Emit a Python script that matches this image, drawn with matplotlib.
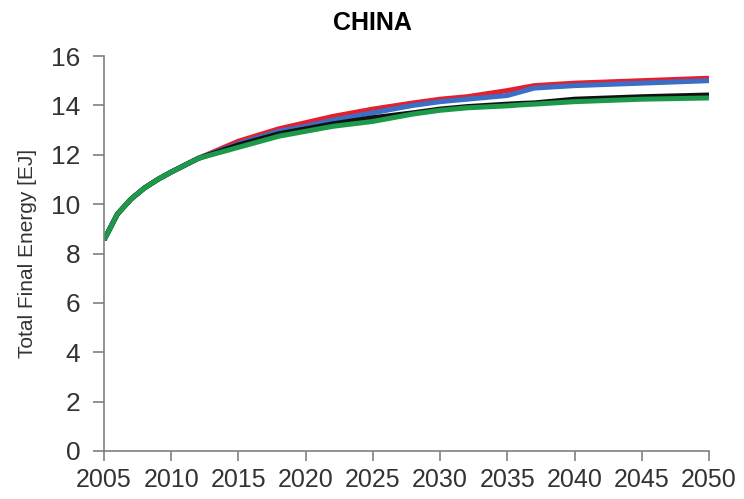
import matplotlib
matplotlib.use("Agg")
import matplotlib.pyplot as plt

years = [2005, 2006, 2007, 2008, 2009, 2010, 2012, 2015, 2018, 2020, 2022,
         2025, 2028, 2030, 2032, 2035, 2036, 2037, 2040, 2045, 2050]
early = [8.55, 9.6, 10.2, 10.65, 11.0, 11.3, 11.85]
red_vals = early + [12.55, 13.05, 13.3, 13.55, 13.85, 14.1, 14.25, 14.35, 14.6, 14.7, 14.8, 14.9, 15.0, 15.1]
blue_vals = early + [12.45, 12.95, 13.15, 13.4, 13.7, 14.0, 14.15, 14.25, 14.4, 14.55, 14.7, 14.8, 14.9, 15.0]
black_vals = early + [12.4, 12.85, 13.05, 13.25, 13.5, 13.7, 13.85, 13.95, 14.05, 14.08, 14.1, 14.25, 14.35, 14.42]
green_vals = early + [12.3, 12.75, 12.95, 13.15, 13.35, 13.65, 13.8, 13.9, 13.98, 14.02, 14.05, 14.15, 14.25, 14.3]

xticks = list(range(2005, 2051, 5))
yticks = list(range(0, 17, 2))

plt.rcParams['font.family'] = ['Liberation Sans', 'DejaVu Sans']

fig = plt.figure(figsize=(7.44, 4.99), dpi=100)
ax = fig.add_axes([104/744, 1-451/499, (709-104)/744, (451-56)/499])

lw = 3.6
ax.plot(years, red_vals, color='#e3202b', lw=lw, solid_capstyle='butt')
ax.plot(years, blue_vals, color='#3b6fc6', lw=lw, solid_capstyle='butt')
ax.plot(years, black_vals, color='#111111', lw=lw, solid_capstyle='butt')
ax.plot(years, green_vals, color='#1c9a4a', lw=lw, solid_capstyle='butt')

ax.set_xlim(2005, 2050)
ax.set_ylim(0, 16)
ax.set_xticks(xticks)
ax.set_yticks(yticks)
ax.set_xticklabels([str(x) for x in xticks])
ax.set_yticklabels([str(y) for y in yticks])

for s in ['top', 'right']:
    ax.spines[s].set_visible(False)
for s in ['left', 'bottom']:
    ax.spines[s].set_color('#808080')
    ax.spines[s].set_linewidth(1.2)
ax.tick_params(axis='both', colors='#808080', labelcolor='#333333',
               labelsize=18, width=1.2, direction='out')
ax.tick_params(axis='x', length=7, pad=5)
ax.tick_params(axis='y', length=8, pad=9, labelsize=19)

ax.set_ylabel('Total Final Energy [EJ]', fontsize=15, color='#333333', labelpad=10)
fig.text(372/744, 1-23/499, 'CHINA', fontsize=18, fontweight='bold',
         ha='center', va='center', color='black')

fig.savefig('out.png', dpi=100)
